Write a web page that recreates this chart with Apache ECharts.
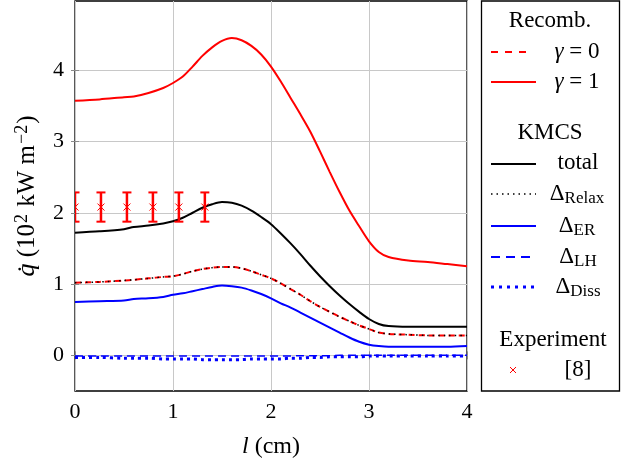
<!DOCTYPE html>
<html>
<head>
<meta charset="utf-8">
<script src="https://cdn.jsdelivr.net/npm/echarts@6/dist/echarts.min.js"></script>
<style>
html,body{margin:0;padding:0;background:#fff;}
#chart{width:621px;height:466px;}
</style>
</head>
<body>
<div id="chart"></div>
<script>
// ---- data ----
const lValues = [0, 0.25, 0.5, 0.6, 0.75, 0.9, 1.0, 1.1, 1.2, 1.3, 1.4, 1.5, 1.6, 1.7, 1.8, 1.9, 2.0, 2.1, 2.2, 2.3, 2.4, 2.5, 2.6, 2.7, 2.8, 2.9, 3.0, 3.1, 3.2, 3.4, 3.6, 3.8, 4.0];
const recombGamma1 = [3.57, 3.59, 3.62, 3.63, 3.68, 3.75, 3.82, 3.91, 4.05, 4.20, 4.32, 4.41, 4.45, 4.42, 4.34, 4.22, 4.05, 3.84, 3.61, 3.38, 3.14, 2.86, 2.57, 2.29, 2.03, 1.81, 1.60, 1.45, 1.38, 1.33, 1.31, 1.28, 1.25];
const recombGamma0 = [1.02, 1.03, 1.05, 1.06, 1.08, 1.10, 1.11, 1.14, 1.18, 1.21, 1.23, 1.24, 1.24, 1.22, 1.18, 1.13, 1.08, 1.01, 0.93, 0.85, 0.76, 0.68, 0.61, 0.54, 0.48, 0.42, 0.37, 0.32, 0.30, 0.29, 0.28, 0.28, 0.28];
const kmcsTotal = [1.72, 1.74, 1.77, 1.80, 1.82, 1.85, 1.88, 1.93, 2.00, 2.07, 2.12, 2.15, 2.14, 2.10, 2.03, 1.94, 1.84, 1.71, 1.57, 1.42, 1.26, 1.11, 0.97, 0.84, 0.72, 0.61, 0.51, 0.44, 0.41, 0.40, 0.40, 0.40, 0.40];
const kmcsRelax = [1.02, 1.03, 1.05, 1.06, 1.08, 1.10, 1.11, 1.14, 1.18, 1.21, 1.23, 1.24, 1.24, 1.22, 1.18, 1.13, 1.08, 1.01, 0.93, 0.85, 0.76, 0.68, 0.61, 0.54, 0.48, 0.42, 0.37, 0.32, 0.30, 0.29, 0.28, 0.28, 0.28];
const kmcsER = [0.75, 0.76, 0.77, 0.79, 0.80, 0.82, 0.85, 0.87, 0.90, 0.93, 0.96, 0.98, 0.97, 0.95, 0.91, 0.86, 0.80, 0.73, 0.67, 0.60, 0.53, 0.46, 0.39, 0.32, 0.25, 0.19, 0.15, 0.13, 0.12, 0.12, 0.12, 0.12, 0.13];
const kmcsLH = [-0.01, -0.01, -0.01, -0.01, -0.01, -0.01, -0.01, -0.01, -0.01, -0.01, -0.01, -0.01, -0.01, -0.01, -0.01, -0.01, -0.01, -0.01, -0.01, -0.005, -0.005, -0.005, -0.005, 0, 0, 0, 0, 0, 0, 0, 0, 0, 0];
const kmcsDiss = [-0.03, -0.03, -0.04, -0.04, -0.04, -0.05, -0.05, -0.05, -0.05, -0.06, -0.06, -0.06, -0.06, -0.06, -0.05, -0.05, -0.05, -0.05, -0.04, -0.04, -0.03, -0.03, -0.02, -0.02, -0.02, -0.02, -0.01, -0.01, -0.01, -0.01, -0.01, -0.01, -0.01];
const expL = [0, 0.265, 0.53, 0.795, 1.06, 1.325];
const expQ = [2.08, 2.08, 2.08, 2.08, 2.08, 2.08];
const expErr = [0.205, 0.205, 0.205, 0.205, 0.205, 0.205];
const yTicks = [0, 1, 2, 3, 4];

const pair = (xs, ys) => xs.map((x, i) => [x, ys[i]]);
const FONT = '"Liberation Serif", "DejaVu Serif", serif';
const LF = 23; // legend font size
const SF = 17; // subscript size

const chart = echarts.init(document.getElementById('chart'), null, {renderer: 'canvas'});

function lineSeries(name, ys, color, width, type, z) {
  return {
    name, type: 'line', data: pair(lValues, ys), showSymbol: false, symbol: 'none',
    smooth: 0.3, z: z, animation: false,
    lineStyle: {color, width, type}
  };
}

const gridCol = '#c8c8c8';
const tickCol = '#8a8a8a';

function txt(text, x, y, rich) {
  const st = {text, x, y, align: 'center', verticalAlign: 'middle', font: LF + 'px ' + FONT, fill: '#000'};
  if (rich) st.rich = rich;
  return {type: 'text', style: st};
}
const richI = {i: {fontStyle: 'italic', fontSize: LF, fontFamily: FONT}};
const richS = {s: {fontSize: SF, fontFamily: FONT, padding: [9, 0, 0, 0]}};

// legend graphic
const LX1 = 491, LX2 = 536;
const legendG = [
  {type: 'rect', shape: {x: 481.5, y: 1, width: 138, height: 390}, style: {fill: 'none', stroke: '#000', lineWidth: 1.3}},
  txt('Recomb.', 550, 21),
  {type: 'line', shape: {x1: LX1, y1: 52, x2: 533, y2: 52}, style: {stroke: '#f00', lineWidth: 2, lineDash: [7, 7]}},
  txt('{i|γ} = 0', 577, 52, richI),
  {type: 'line', shape: {x1: LX1, y1: 82, x2: LX2, y2: 82}, style: {stroke: '#f00', lineWidth: 2}},
  txt('{i|γ} = 1', 577, 82, richI),
  txt('KMCS', 550, 133),
  {type: 'line', shape: {x1: LX1, y1: 164, x2: LX2, y2: 164}, style: {stroke: '#000', lineWidth: 2}},
  txt('total', 578, 163),
  {type: 'line', shape: {x1: LX1, y1: 194, x2: LX2, y2: 194}, style: {stroke: '#000', lineWidth: 1.5, lineDash: [1.5, 4]}},
  txt('Δ{s|Relax}', 577, 194, richS),
  {type: 'line', shape: {x1: LX1, y1: 226, x2: LX2, y2: 226}, style: {stroke: '#0000ff', lineWidth: 2}},
  txt('Δ{s|ER}', 577, 226, richS),
  {type: 'line', shape: {x1: LX1, y1: 257, x2: 532, y2: 257}, style: {stroke: '#0000ff', lineWidth: 2, lineDash: [9, 6]}},
  txt('Δ{s|LH}', 578, 257, richS),
  {type: 'line', shape: {x1: LX1, y1: 287, x2: LX2, y2: 287}, style: {stroke: '#0000ff', lineWidth: 3, lineDash: [3, 5]}},
  txt('Δ{s|Diss}', 578, 287, richS),
  txt('Experiment', 553, 340),
  {type: 'line', shape: {x1: 510, y1: 367, x2: 516, y2: 373}, style: {stroke: '#f00', lineWidth: 1}},
  {type: 'line', shape: {x1: 510, y1: 373, x2: 516, y2: 367}, style: {stroke: '#f00', lineWidth: 1}},
  txt('[8]', 578, 370)
];

const option = {
  animation: false,
  backgroundColor: '#fff',
  grid: {left: 75, right: 154, top: 1, bottom: 75, show: true, borderColor: '#000', borderWidth: 1.3, backgroundColor: 'transparent', containLabel: false},
  xAxis: [{
    type: 'value', min: 0, max: 4, interval: 1,
    name: '{i|l} (cm)', nameLocation: 'middle', nameGap: 44,
    nameTextStyle: {fontFamily: FONT, fontSize: 24, color: '#000', rich: {i: {fontStyle: 'italic', fontFamily: FONT, fontSize: 24, color: '#000'}}},
    axisLine: {show: false},
    axisTick: {show: true, inside: true, length: 4, lineStyle: {color: tickCol, width: 1}},
    axisLabel: {fontFamily: FONT, fontSize: 22, color: '#000', margin: 10},
    splitLine: {show: true, lineStyle: {color: gridCol, width: 1}}
  }, {
    type: 'value', min: 0, max: 4, interval: 1, position: 'top',
    axisLine: {show: false}, axisLabel: {show: false}, splitLine: {show: false},
    axisTick: {show: true, inside: true, length: 4, lineStyle: {color: tickCol, width: 1}}
  }],
  yAxis: [{
    type: 'value', min: -0.5, max: 4.97,
    name: '{i|q\u0307} (10{sup|2} kW m{sup|−2})', nameLocation: 'middle', nameGap: 33, nameRotate: 90,
    nameTextStyle: {fontFamily: FONT, fontSize: 25, color: '#000', rich: {
      i: {fontStyle: 'italic', fontFamily: FONT, fontSize: 26, color: '#000'},
      sup: {fontFamily: FONT, fontSize: 18, color: '#000', padding: [0, 1, 11, 1]}
    }},
    axisLine: {show: false},
    axisTick: {show: true, inside: true, length: 4, customValues: yTicks, lineStyle: {color: tickCol, width: 1}},
    axisLabel: {fontFamily: FONT, fontSize: 22, color: '#000', margin: 11, customValues: yTicks},
    splitLine: {show: true, lineStyle: {color: gridCol, width: 1}}
  }, {
    type: 'value', min: -0.5, max: 4.97, position: 'right',
    axisLine: {show: false}, axisLabel: {show: false}, splitLine: {show: false},
    axisTick: {show: true, inside: true, length: 4, customValues: yTicks, lineStyle: {color: tickCol, width: 1}}
  }],
  graphic: legendG,
  series: [
    lineSeries('γ = 1', recombGamma1, '#ff0000', 2, 'solid', 3),
    lineSeries('total', kmcsTotal, '#000000', 2, 'solid', 3),
    lineSeries('ΔER', kmcsER, '#0000ff', 2, 'solid', 3),
    lineSeries('γ = 0', recombGamma0, '#ff0000', 2, [6, 4], 4),
    lineSeries('ΔRelax', kmcsRelax, '#000000', 1.5, [1.5, 4], 5),
    lineSeries('ΔLH', kmcsLH, '#0000ff', 1.5, [8, 5], 4),
    lineSeries('ΔDiss', kmcsDiss, '#0000ff', 3, [3, 4], 5),
    {
      name: 'Experiment', type: 'custom', z: 6, clip: true,
      data: expL.map((x, i) => [x, expQ[i], expErr[i]]),
      renderItem: function (params, api) {
        const x = api.value(0), y = api.value(1), e = api.value(2);
        const c = api.coord([x, y]);
        const t = api.coord([x, y + e]);
        const b = api.coord([x, y - e]);
        const cw = 4.5, m = 3.5;
        const st = {stroke: '#ff0000', lineWidth: 2.5};
        const cs = params.coordSys;
        return {
          type: 'group',
          clipPath: {type: 'rect', shape: {x: cs.x, y: cs.y, width: cs.width, height: cs.height}},
          children: [
            {type: 'line', shape: {x1: c[0], y1: t[1], x2: c[0], y2: b[1]}, style: st},
            {type: 'line', shape: {x1: c[0] - cw, y1: t[1], x2: c[0] + cw, y2: t[1]}, style: {stroke: '#ff0000', lineWidth: 2}},
            {type: 'line', shape: {x1: c[0] - cw, y1: b[1], x2: c[0] + cw, y2: b[1]}, style: {stroke: '#ff0000', lineWidth: 2}},
            {type: 'line', shape: {x1: c[0] - m, y1: c[1] - m, x2: c[0] + m, y2: c[1] + m}, style: {stroke: '#ff0000', lineWidth: 1}},
            {type: 'line', shape: {x1: c[0] - m, y1: c[1] + m, x2: c[0] + m, y2: c[1] - m}, style: {stroke: '#ff0000', lineWidth: 1}}
          ]
        };
      }
    }
  ]
};
chart.setOption(option);
</script>
</body>
</html>
